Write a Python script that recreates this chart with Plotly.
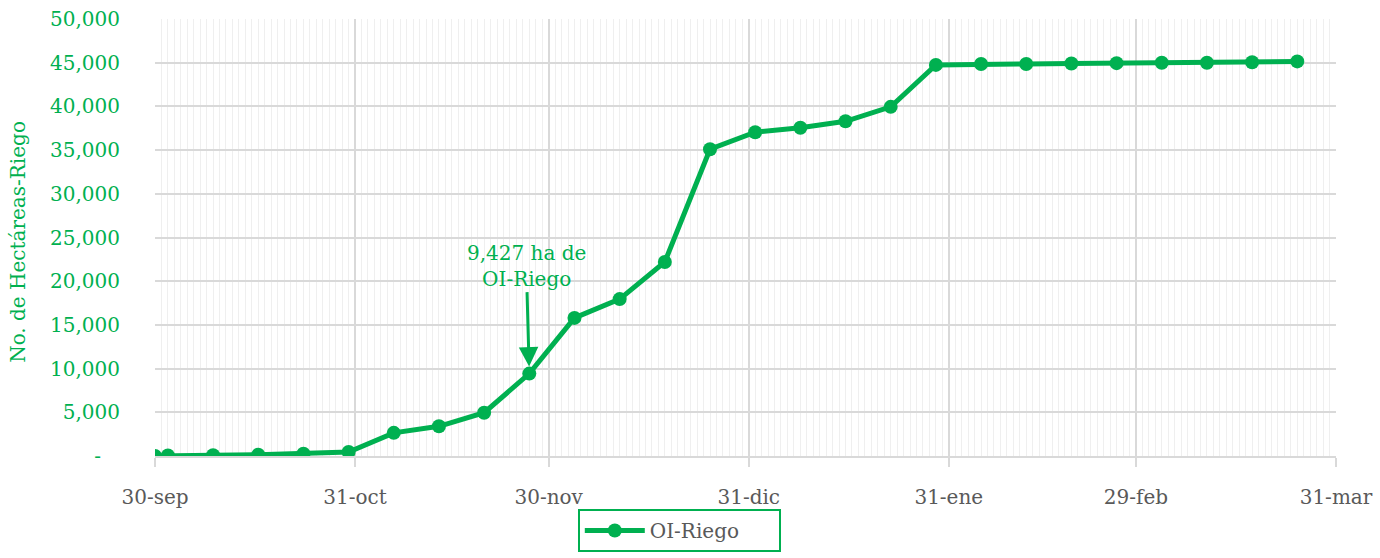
import plotly.graph_objects as go

fechas = ["2023-09-30", "2023-10-02", "2023-10-09", "2023-10-16", "2023-10-23", "2023-10-30",
          "2023-11-06", "2023-11-13", "2023-11-20", "2023-11-27", "2023-12-04", "2023-12-11",
          "2023-12-18", "2023-12-25", "2024-01-01", "2024-01-08", "2024-01-15", "2024-01-22",
          "2024-01-29", "2024-02-05", "2024-02-12", "2024-02-19", "2024-02-26", "2024-03-04",
          "2024-03-11", "2024-03-18", "2024-03-25"]
hectareas = [0, 50, 100, 150, 250, 450, 2650, 3400, 4950, 9427, 15800, 17950,
             22200, 35100, 37050, 37550, 38300, 39950, 44750, 44850, 44850, 44900,
             44950, 45000, 45000, 45050, 45150]

x_tickvals = ["2023-09-30", "2023-10-31", "2023-11-30", "2023-12-31", "2024-01-31", "2024-02-29", "2024-03-31"]
x_ticktext = ["30-sep", "31-oct", "30-nov", "31-dic", "31-ene", "29-feb", "31-mar"]
y_tickvals = [0, 5000, 10000, 15000, 20000, 25000, 30000, 35000, 40000, 45000, 50000]
y_ticktext = ["-\u00a0\u00a0\u00a0"] + [f"{v:,}" for v in y_tickvals[1:]]

GREEN = "#00B050"
GRAY = "#595959"
FONT = "DejaVu Serif"

fig = go.Figure()
fig.add_trace(go.Scatter(
    x=fechas, y=hectareas, mode="lines+markers", name="OI-Riego",
    line=dict(color=GREEN, width=5),
    marker=dict(color=GREEN, size=14),
))

fig.add_annotation(
    x="2023-11-27", y=9427, text="9,427 ha de<br>OI-Riego",
    showarrow=True, ax=-3, ay=-108, arrowhead=2, arrowsize=1.3, arrowwidth=3,
    arrowcolor=GREEN, standoff=7, font=dict(family=FONT, size=20, color=GREEN),
)
fig.add_annotation(
    xref="paper", yref="paper", x=-0.116, y=0.49, xanchor="center", yanchor="middle",
    text="No. de Hectáreas-Riego", textangle=-90, showarrow=False,
    font=dict(family=FONT, size=20, color=GREEN),
)

fig.update_layout(
    width=1380, height=558,
    margin=dict(l=155, r=44, t=19, b=102),
    paper_bgcolor="white", plot_bgcolor="white",
    font=dict(family=FONT, size=20, color=GRAY),
    showlegend=True,
    legend=dict(orientation="h", x=0.358, xanchor="left",
                yref="container", y=1 - 509 / 558, yanchor="top",
                bordercolor=GREEN, borderwidth=2, font=dict(size=20, color=GRAY),
                itemwidth=60, entrywidth=124),
    xaxis=dict(
        range=["2023-09-30", "2024-03-31"], type="date", automargin=False,
        tickmode="array", tickvals=x_tickvals, ticktext=x_ticktext,
        showgrid=True, gridcolor="#d9d9d9", gridwidth=1.5,
        ticks="outside", ticklen=9, tickcolor="#d9d9d9", tickwidth=1.5,
        showline=True, linecolor="#d9d9d9", linewidth=1.5,
        tickfont=dict(family=FONT, size=20, color=GRAY),
        ticklabelstandoff=13,
        minor=dict(dtick=86400000, tick0="2023-09-30", showgrid=True,
                   gridcolor="#efefef", gridwidth=1),
    ),
    yaxis=dict(
        range=[0, 50000], tickmode="array", tickvals=y_tickvals, ticktext=y_ticktext,
        automargin=False,
        showgrid=True, gridcolor="#d9d9d9", gridwidth=1.5, zeroline=False,
        tickfont=dict(family=FONT, size=20, color=GREEN),
        ticklabelstandoff=34,
    ),
)

fig.write_html("out.html", config={"displayModeBar": False},
               post_script="document.body.style.margin='0';")
